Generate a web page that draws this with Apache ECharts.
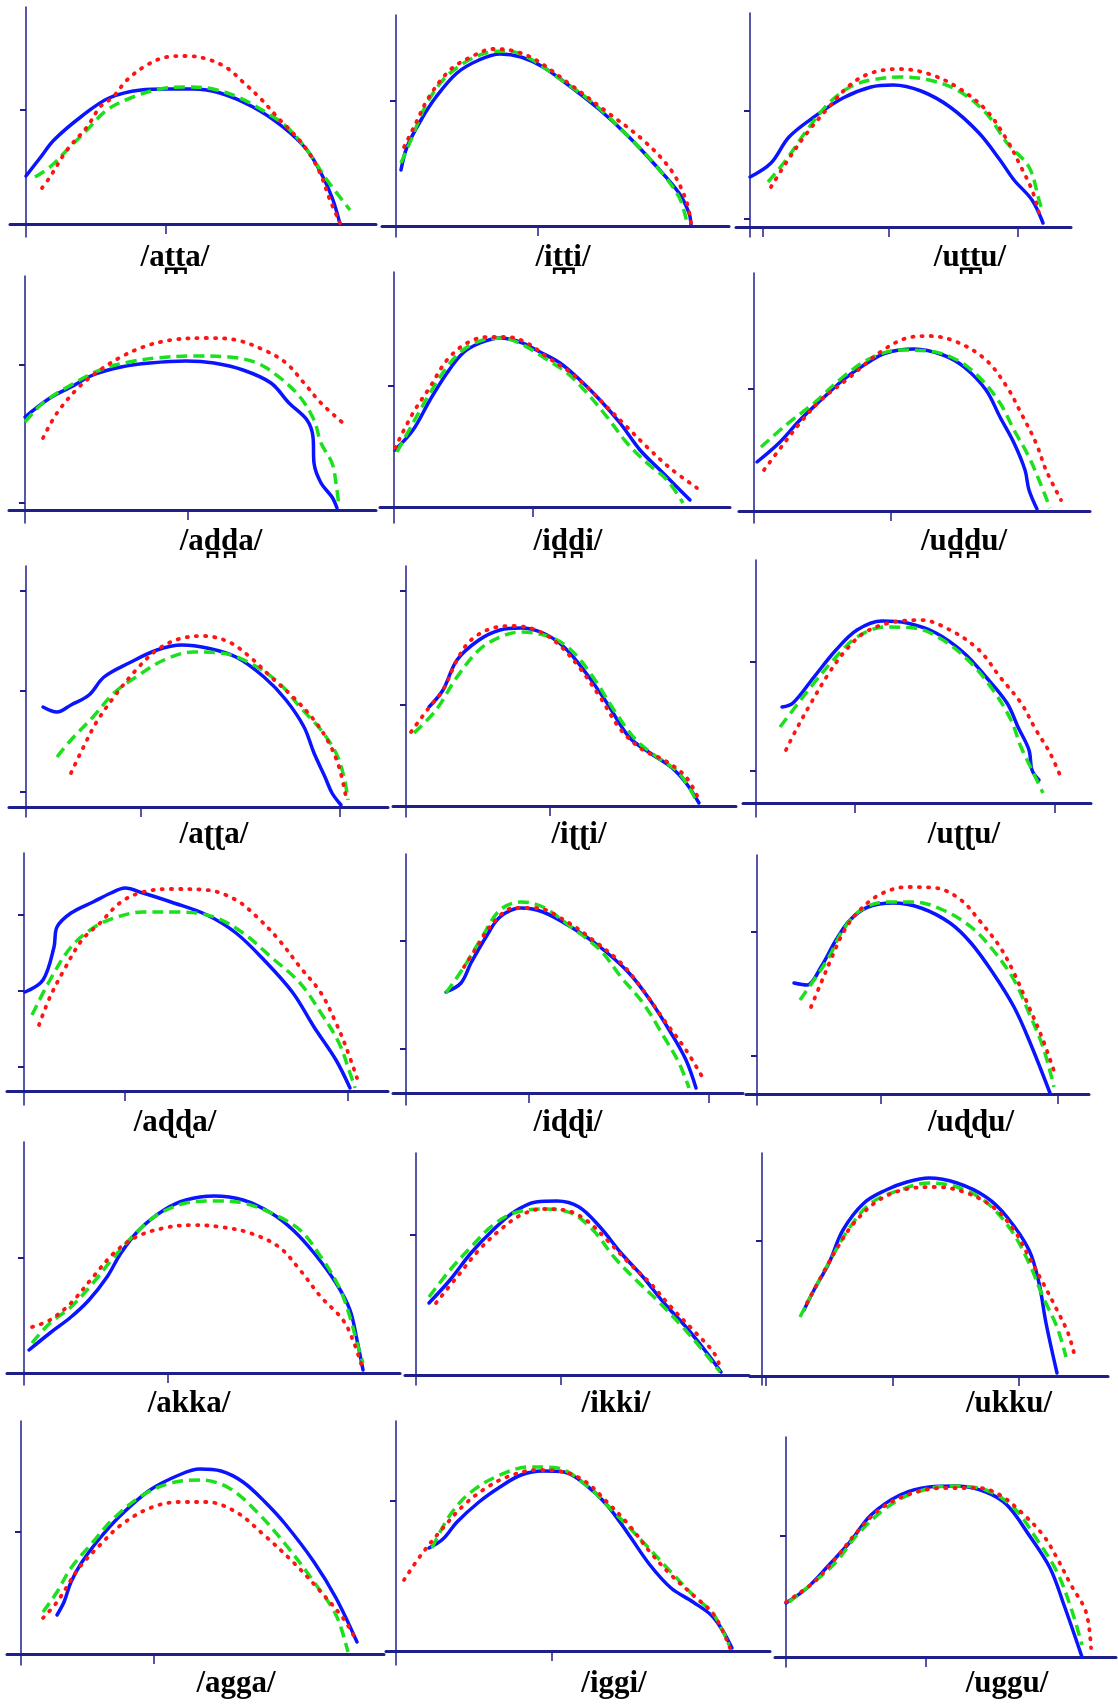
<!DOCTYPE html>
<html>
<head>
<meta charset="utf-8">
<script src="https://cdn.jsdelivr.net/npm/echarts@6/dist/echarts.min.js"></script>
<style>
html,body{margin:0;padding:0;background:#fff;}
#chart{width:1118px;height:1705px;}
</style>
</head>
<body>
<div id="chart"></div>
<script>
// ---------- labels ----------
const labels = [
  "/at\u032At\u032Aa/", "/it\u032At\u032Ai/", "/ut\u032At\u032Au/",
  "/ad\u032Ad\u032Aa/", "/id\u032Ad\u032Ai/", "/ud\u032Ad\u032Au/",
  "/a\u0288\u0288a/", "/i\u0288\u0288i/", "/u\u0288\u0288u/",
  "/a\u0256\u0256a/", "/i\u0256\u0256i/", "/u\u0256\u0256u/",
  "/akka/", "/ikki/", "/ukku/",
  "/agga/", "/iggi/", "/uggu/"
];

// ---------- tongue contours (x, height above axis) ----------
const p1_blue  = [[0,48],[14,66],[28,84],[56,108],[83,126],[115,134],[140,135],[167,135],[194,131],[227,117],[257,97],[281,74],[297,47],[307,24],[314,0]];
const p1_green = [[9,47],[24,57],[41,74],[61,94],[81,114],[107,127],[134,135],[161,137],[187,135],[214,126],[241,111],[261,97],[281,74],[301,44],[324,14]];
const p1_red   = [[16,36],[24,47],[41,74],[61,97],[74,117],[87,127],[101,144],[121,159],[141,167],[161,168],[181,165],[201,156],[217,142],[234,126],[254,104],[267,91],[281,74],[294,51],[304,24],[314,1]];

const p2_blue  = [[5,56],[11,79],[25,106],[40,129],[61,153],[83,166],[104,172],[125,169],[147,159],[175,139],[204,116],[233,89],[261,59],[283,33],[293,13],[295,1]];
const p2_green = [[5,63],[15,86],[29,119],[47,146],[68,163],[90,173],[111,175],[133,168],[161,149],[197,123],[233,89],[261,59],[283,29],[291,3]];
const p2_red   = [[8,79],[18,99],[33,129],[54,156],[75,169],[97,177],[118,175],[140,166],[175,141],[211,114],[247,86],[275,56],[290,26],[295,3]];

const p3_blue  = [[0,50],[21,64],[39,90],[64,110],[93,129],[121,140],[143,142],[171,136],[200,120],[229,94],[250,67],[264,47],[282,27],[293,4]];
const p3_green = [[18,45],[36,67],[57,97],[79,124],[100,140],[121,147],[150,150],[179,147],[207,137],[236,114],[257,84],[279,60],[289,27],[293,14]];
const p3_red   = [[21,40],[36,64],[57,94],[79,120],[100,142],[121,154],[150,158],[179,153],[207,140],[236,117],[257,87],[271,60],[282,37],[289,14]];

const p4_blue  = [[0,93],[25,112],[46,123],[68,135],[96,143],[125,147],[161,149],[189,147],[218,140],[246,127],[264,107],[282,90],[288,73],[289,47],[296,27],[307,13],[312,2]];
const p4_green = [[0,88],[18,107],[46,125],[75,140],[104,148],[132,152],[168,154],[204,153],[232,147],[254,133],[275,113],[289,90],[296,67],[307,47],[311,27],[314,3]];
const p4_red   = [[18,72],[32,97],[54,123],[75,140],[96,153],[118,163],[146,170],[182,172],[211,170],[239,160],[261,147],[279,127],[296,107],[318,87]];

const p5_blue  = [[1,57],[19,77],[36,107],[53,134],[69,154],[86,164],[106,169],[126,165],[146,155],[166,144],[186,127],[206,107],[226,84],[246,57],[266,37],[279,24],[296,7]];
const p5_green = [[3,55],[19,84],[36,114],[53,140],[69,157],[89,167],[109,169],[129,162],[149,150],[173,134],[193,114],[213,90],[233,64],[253,44],[273,27],[289,4]];
const p5_red   = [[1,59],[19,94],[36,120],[53,147],[73,164],[93,170],[113,170],[133,164],[153,150],[173,137],[193,120],[213,100],[233,80],[253,60],[276,39],[303,19]];

const p6_blue  = [[3,49],[25,68],[46,91],[67,111],[89,131],[110,146],[132,158],[160,162],[189,156],[210,144],[232,121],[246,94],[260,68],[271,41],[275,21],[283,2]];
const p6_green = [[7,64],[32,86],[60,108],[89,134],[117,153],[146,161],[175,160],[203,151],[225,134],[246,108],[260,81],[275,54],[285,31],[296,3]];
const p6_red   = [[10,41],[25,61],[46,88],[67,111],[96,134],[125,158],[153,173],[175,175],[203,169],[232,151],[253,124],[267,98],[282,68],[292,41],[307,11]];

const p7_blue  = [[17,100],[31,95],[45,102],[63,112],[78,130],[103,144],[131,157],[156,162],[181,159],[210,150],[238,130],[260,107],[278,80],[288,54],[299,30],[306,14],[315,2]];
const p7_green = [[31,50],[45,67],[67,90],[88,114],[110,130],[138,147],[167,155],[195,154],[224,144],[253,124],[274,100],[295,77],[310,54],[318,30],[322,7]];
const p7_red   = [[45,34],[56,57],[70,84],[88,110],[110,137],[131,157],[153,168],[178,171],[203,165],[224,150],[245,130],[267,110],[288,87],[303,64],[313,40],[320,10]];

const p8_blue  = [[23,99],[37,116],[51,146],[73,166],[94,176],[115,178],[137,173],[158,159],[180,133],[201,103],[223,69],[244,53],[265,39],[280,23],[293,3]];
const p8_green = [[8,73],[30,96],[51,129],[73,156],[94,169],[115,174],[144,169],[165,156],[187,129],[208,96],[230,66],[251,49],[273,33],[290,6]];
const p8_red   = [[5,74],[22,97],[37,116],[51,146],[65,166],[87,178],[108,180],[130,176],[151,163],[173,139],[194,109],[215,76],[237,56],[258,46],[280,29],[294,4]];

const p9_blue  = [[26,96],[37,100],[58,126],[80,153],[101,173],[126,182],[151,180],[180,170],[208,150],[230,126],[251,100],[262,76],[273,53],[276,33],[283,23]];
const p9_green = [[24,76],[37,93],[58,120],[80,146],[101,166],[130,176],[158,175],[187,163],[215,140],[237,113],[255,83],[265,56],[276,33],[287,10]];
const p9_red   = [[30,53],[40,73],[55,100],[73,130],[90,153],[108,170],[133,180],[165,183],[194,173],[223,153],[244,126],[265,100],[280,73],[294,50],[306,23]];

const p10_blue  = [[1,99],[19,111],[30,144],[33,164],[47,178],[69,189],[87,198],[101,203],[119,198],[147,189],[183,176],[212,158],[240,131],[269,98],[290,64],[312,31],[326,3]];
const p10_green = [[8,76],[26,111],[47,144],[69,163],[90,173],[119,179],[155,179],[190,174],[219,158],[247,134],[276,108],[297,78],[315,48],[326,18],[331,3]];
const p10_red   = [[15,66],[26,94],[40,121],[58,151],[76,168],[97,189],[119,199],[147,202],[183,201],[212,191],[233,174],[255,151],[276,124],[297,98],[312,68],[322,44],[333,13]];

const p11_blue  = [[40,101],[55,110],[65,130],[80,156],[94,176],[115,185],[137,181],[165,166],[194,146],[223,120],[244,93],[265,60],[280,33],[290,5]];
const p11_green = [[40,100],[58,126],[76,156],[94,183],[115,191],[137,186],[165,166],[194,143],[215,116],[237,90],[258,56],[273,30],[283,5]];
const p11_red   = [[58,126],[69,143],[87,170],[108,185],[130,185],[158,173],[187,153],[215,130],[237,103],[258,73],[280,43],[298,13]];

const p12_blue  = [[37,111],[50,109],[64,127],[79,154],[93,174],[111,187],[136,191],[164,186],[193,171],[214,151],[236,121],[257,87],[272,54],[293,1]];
const p12_green = [[43,94],[57,114],[72,137],[86,164],[104,184],[129,192],[157,192],[186,184],[214,167],[236,144],[257,114],[272,81],[286,47],[297,7]];
const p12_red   = [[54,87],[64,111],[75,137],[86,161],[100,181],[122,199],[150,207],[179,206],[204,194],[222,174],[243,147],[257,121],[272,87],[286,54],[299,17]];

const p13_blue  = [[5,23],[26,40],[47,56],[65,73],[83,96],[97,120],[115,143],[140,163],[162,173],[190,177],[219,173],[247,160],[269,143],[290,120],[312,90],[326,63],[333,33],[339,3]];
const p13_green = [[8,30],[26,50],[47,66],[69,90],[90,116],[112,140],[133,158],[162,170],[190,172],[219,170],[247,160],[276,143],[297,116],[315,86],[326,56],[333,30],[339,10]];
const p13_red   = [[8,46],[26,53],[47,70],[69,96],[90,120],[112,136],[140,145],[169,148],[197,146],[226,140],[255,126],[276,103],[297,76],[319,53],[330,30],[339,3]];

const p14_blue  = [[13,72],[34,95],[55,122],[77,145],[98,163],[120,173],[141,174],[163,168],[184,148],[205,122],[227,98],[248,72],[270,48],[291,22],[305,3]];
const p14_green = [[13,78],[34,105],[55,128],[77,150],[98,162],[127,166],[155,162],[177,145],[198,118],[220,95],[241,75],[263,52],[284,28],[304,3]];
const p14_red   = [[20,72],[41,98],[63,125],[84,145],[105,160],[127,166],[148,165],[170,155],[191,135],[213,112],[234,92],[255,68],[277,45],[298,22],[305,5]];

const p15_blue  = [[42,66],[52,86],[67,113],[81,146],[102,173],[124,186],[145,194],[167,198],[195,193],[224,179],[245,159],[267,126],[277,93],[284,53],[295,3]];
const p15_green = [[38,59],[52,86],[70,119],[88,149],[109,173],[138,186],[167,193],[195,189],[224,174],[249,146],[267,113],[281,79],[295,49],[304,19]];
const p15_red   = [[45,73],[59,99],[74,126],[92,153],[117,176],[145,187],[174,189],[202,184],[231,169],[252,146],[267,119],[281,93],[295,66],[306,43],[312,23]];

const p16_blue  = [[36,39],[43,52],[50,72],[61,92],[79,116],[100,139],[129,164],[158,179],[179,185],[200,183],[222,172],[244,152],[265,129],[293,92],[315,56],[336,12]];
const p16_green = [[22,42],[36,62],[50,86],[72,112],[93,136],[122,159],[150,171],[179,174],[208,166],[236,142],[265,109],[293,72],[315,39],[327,2]];
const p16_red   = [[22,36],[36,52],[58,86],[79,109],[100,129],[129,146],[158,152],[186,152],[215,142],[243,119],[272,92],[300,62],[322,36],[334,16]];

const p17_blue  = [[33,103],[47,112],[61,129],[83,149],[104,164],[125,176],[147,180],[168,179],[190,166],[211,146],[233,116],[254,86],[275,63],[297,49],[318,33],[336,3]];
const p17_green = [[36,103],[54,136],[75,159],[104,176],[133,184],[161,183],[190,166],[218,139],[247,109],[275,79],[297,56],[318,36],[333,6]];
const p17_red   = [[8,71],[25,96],[47,123],[68,146],[90,163],[111,174],[140,181],[168,179],[190,169],[211,149],[233,126],[254,99],[275,76],[297,56],[318,36],[334,3]];

const p18_blue  = [[0,54],[21,69],[43,92],[64,115],[85,142],[114,162],[143,170],[171,171],[200,165],[221,152],[243,122],[264,89],[278,52],[296,0]];
const p18_green = [[3,55],[28,75],[50,95],[71,122],[100,149],[128,164],[164,171],[200,167],[228,149],[250,119],[271,85],[285,49],[296,12]];
const p18_red   = [[0,55],[28,75],[50,99],[71,125],[93,147],[121,162],[157,169],[193,169],[214,162],[235,145],[257,122],[271,99],[285,72],[300,45],[305,9]];

const blueCurves  = [p1_blue,p2_blue,p3_blue,p4_blue,p5_blue,p6_blue,p7_blue,p8_blue,p9_blue,p10_blue,p11_blue,p12_blue,p13_blue,p14_blue,p15_blue,p16_blue,p17_blue,p18_blue];
const greenCurves = [p1_green,p2_green,p3_green,p4_green,p5_green,p6_green,p7_green,p8_green,p9_green,p10_green,p11_green,p12_green,p13_green,p14_green,p15_green,p16_green,p17_green,p18_green];
const redCurves   = [p1_red,p2_red,p3_red,p4_red,p5_red,p6_red,p7_red,p8_red,p9_red,p10_red,p11_red,p12_red,p13_red,p14_red,p15_red,p16_red,p17_red,p18_red];

// ---------- layout (page pixels): origin x, axis y, top, right end, left end, bottom end, x ticks, y ticks, label centre ----------
const layout = [
  {L:26, B:224, T:7,   R:376, xl:10, yb:237, xt:[166], yt:[110], lx:175, ly:258},
  {L:396,B:226, T:15,  R:729, xl:382,yb:237, xt:[538], yt:[101], lx:563, ly:258},
  {L:750,B:227, T:13,  R:1071,xl:736,yb:237, xt:[763,889,1018], yt:[111,219], lx:970, ly:258},
  {L:25, B:510, T:276, R:376, xl:9,  yb:523, xt:[188], yt:[365,503], lx:221, ly:542},
  {L:394,B:507, T:272, R:730, xl:380,yb:523, xt:[533], yt:[386], lx:568, ly:542},
  {L:754,B:511, T:273, R:1090,xl:739,yb:523, xt:[891], yt:[389], lx:964, ly:542},
  {L:26, B:807, T:566, R:388, xl:9,  yb:817, xt:[141,340], yt:[591,691,792], lx:214, ly:835},
  {L:406,B:806, T:566, R:736, xl:393,yb:817, xt:[550], yt:[591,705], lx:579, ly:835},
  {L:756,B:803, T:560, R:1091,xl:743,yb:817, xt:[855,1055], yt:[662,771], lx:964, ly:835},
  {L:24, B:1091,T:853, R:388, xl:7,  yb:1105,xt:[125,348], yt:[915,991,1067], lx:175, ly:1123},
  {L:406,B:1093,T:854, R:743, xl:393,yb:1105,xt:[529,709], yt:[941,1049], lx:568, ly:1123},
  {L:757,B:1094,T:855, R:1089,xl:746,yb:1105,xt:[881,1058], yt:[932,1056], lx:971, ly:1123},
  {L:24, B:1373,T:1142,R:400, xl:7,  yb:1385,xt:[168], yt:[1258], lx:189, ly:1404},
  {L:416,B:1375,T:1153,R:749, xl:405,yb:1385,xt:[561], yt:[1235], lx:616, ly:1404},
  {L:762,B:1376,T:1153,R:1108,xl:750,yb:1385,xt:[766,893,1019], yt:[1241], lx:1009, ly:1404},
  {L:21, B:1654,T:1421,R:384, xl:7,  yb:1665,xt:[154], yt:[1532], lx:236, ly:1684},
  {L:396,B:1651,T:1421,R:770, xl:386,yb:1665,xt:[552], yt:[1501], lx:614, ly:1684},
  {L:786,B:1657,T:1437,R:1116,xl:775,yb:1667,xt:[926], yt:[1536], lx:1007, ly:1684}
];

const AXIS = '#1f1f8c';
const grids = [], xAxes = [], yAxes = [], series = [], texts = [];
layout.forEach((g, i) => {
  grids.push({left:g.xl, top:g.T, width:g.R - g.xl, height:g.yb - g.T, containLabel:false});
  xAxes.push({
    type:'value', gridIndex:i, min:g.xl - g.L, max:g.R - g.L,
    axisLine:{show:true, onZero:true, lineStyle:{color:AXIS, width:3}},
    axisTick:{show:true, inside:false, length:10, customValues:g.xt.map(v => v - g.L), lineStyle:{color:AXIS, width:1.5}},
    axisLabel:{show:false}, splitLine:{show:false}
  });
  yAxes.push({
    type:'value', gridIndex:i, min:g.B - g.yb, max:g.B - g.T,
    axisLine:{show:true, onZero:true, lineStyle:{color:AXIS, width:1.5}},
    axisTick:{show:true, inside:false, length:6, customValues:g.yt.map(v => g.B - v), lineStyle:{color:AXIS, width:2}},
    axisLabel:{show:false}, splitLine:{show:false}
  });
  series.push({type:'line', xAxisIndex:i, yAxisIndex:i, data:blueCurves[i], smooth:0.35, showSymbol:false, silent:true,
    lineStyle:{color:'#0a14ff', width:3.5, cap:'round', join:'round'}, z:2});
  series.push({type:'line', xAxisIndex:i, yAxisIndex:i, data:greenCurves[i], smooth:0.35, showSymbol:false, silent:true,
    lineStyle:{color:'#1de01d', width:3.5, type:[11,6]}, z:3});
  series.push({type:'line', xAxisIndex:i, yAxisIndex:i, data:redCurves[i], smooth:0.35, showSymbol:false, silent:true,
    lineStyle:{color:'#ff1414', width:3.8, type:[1.2,8], cap:'round'}, z:4});
  texts.push({type:'text', x:g.lx, y:g.ly, silent:true,
    style:{text:labels[i], fill:'#000', font:'bold 31px "Liberation Serif", "DejaVu Serif", serif', align:'center', verticalAlign:'middle'}});
});

const chart = echarts.init(document.getElementById('chart'), null, {renderer:'canvas'});
chart.setOption({
  animation:false,
  backgroundColor:'#ffffff',
  grid:grids, xAxis:xAxes, yAxis:yAxes, series:series,
  graphic:texts
});
</script>
</body>
</html>
